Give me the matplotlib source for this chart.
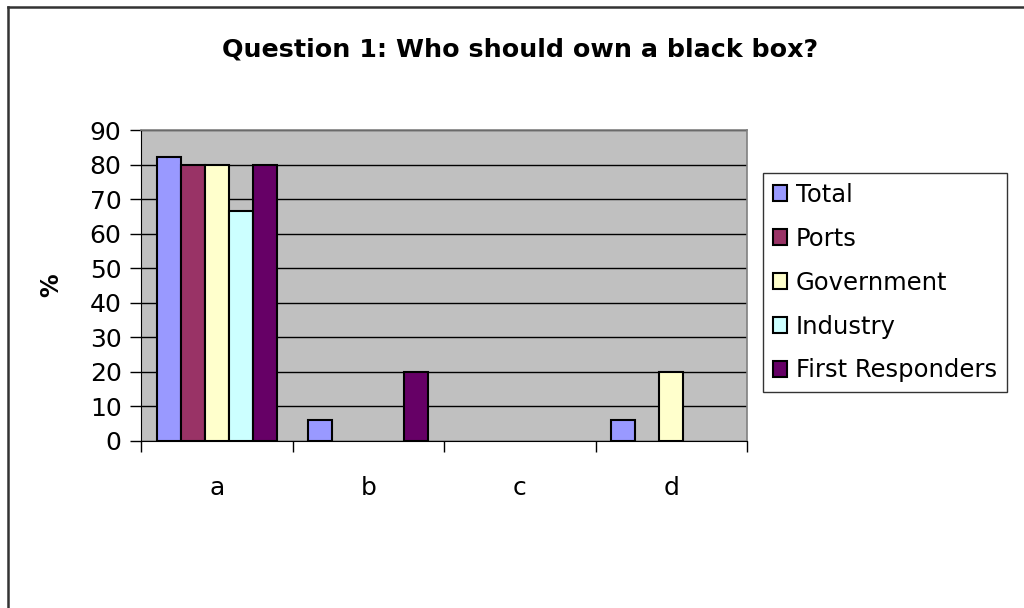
import matplotlib
matplotlib.use("Agg")
import matplotlib.pyplot as plt
import numpy as np
from matplotlib.lines import Line2D

plt.rcParams['font.family'] = ['DejaVu Sans']

categories = ['a', 'b', 'c', 'd']
series_names = ['Total', 'Ports', 'Government', 'Industry', 'First Responders']
total = [82.2, 6, 0, 6]
ports = [80, 0, 0, 0]
government = [80, 0, 0, 20]
industry = [66.7, 0, 0, 0]
first_responders = [80, 20, 0, 0]
series_values = [total, ports, government, industry, first_responders]
colors = ['#9999FF', '#993366', '#FFFFCC', '#CCFFFF', '#660066']
yticks = [0, 10, 20, 30, 40, 50, 60, 70, 80, 90]

fig = plt.figure(figsize=(10.24, 6.08), dpi=100)
fig.patch.set_facecolor('white')
ax = fig.add_axes([141 / 1024, 1 - 441 / 608, 606 / 1024, 311 / 608])
ax.set_facecolor('#C0C0C0')

x = np.arange(len(categories))
bw = 0.158
n = len(series_names)
for i, (name, vals, c) in enumerate(zip(series_names, series_values, colors)):
    offs = (i - (n - 1) / 2) * bw
    bars = ax.bar(x + offs, vals, width=bw, color=c, edgecolor='black',
                  linewidth=1.5, label=name, zorder=3)
    # empty answers leave no visible mark
    for patch, v in zip(bars.patches, vals):
        if v == 0:
            patch.set_visible(False)

ax.set_xlim(-0.5, len(categories) - 0.5)
ax.set_ylim(0, 90)
ax.set_yticks(yticks)
ax.yaxis.grid(True, color='black', linewidth=1.0, zorder=1)
ax.set_axisbelow(True)

ax.set_xticks(x)
ax.set_xticklabels(categories)
ax.set_xticks(np.arange(-0.5, len(categories)), minor=True)
ax.tick_params(axis='x', which='major', length=0, pad=25, labelsize=18)
ax.tick_params(axis='x', which='minor', length=8, width=1, color='black')
ax.tick_params(axis='y', length=8, width=1, labelsize=18, pad=6)

for side in ['top', 'right']:
    ax.spines[side].set_color('#808080')
    ax.spines[side].set_linewidth(1.2)
ax.spines['left'].set_color('black')
ax.spines['bottom'].set_color('black')

ax.set_ylabel('%', fontsize=17, fontweight='bold', labelpad=19)

fig.text(520 / 1024, 1 - 50 / 608, 'Question 1: Who should own a black box?',
         ha='center', va='center', fontsize=18.3, fontweight='bold')

leg = ax.legend(loc='upper left', bbox_to_anchor=(763 / 1024, 1 - 173 / 608),
                bbox_transform=fig.transFigure, frameon=True, fancybox=False,
                edgecolor='black', fontsize=17.5, handlelength=0.6,
                handleheight=0.6, handletextpad=0.35, labelspacing=0.82,
                borderpad=0.4, borderaxespad=0)
leg.get_frame().set_linewidth(1.0)

# outer chart border (left and top edges)
fig.add_artist(Line2D([8 / 1024, 8 / 1024], [0, 1 - 7 / 608],
                      transform=fig.transFigure, color='#333333', linewidth=1.8))
fig.add_artist(Line2D([8 / 1024, 1], [1 - 7 / 608, 1 - 7 / 608],
                      transform=fig.transFigure, color='#333333', linewidth=1.8))

fig.savefig('out.png', dpi=100)
